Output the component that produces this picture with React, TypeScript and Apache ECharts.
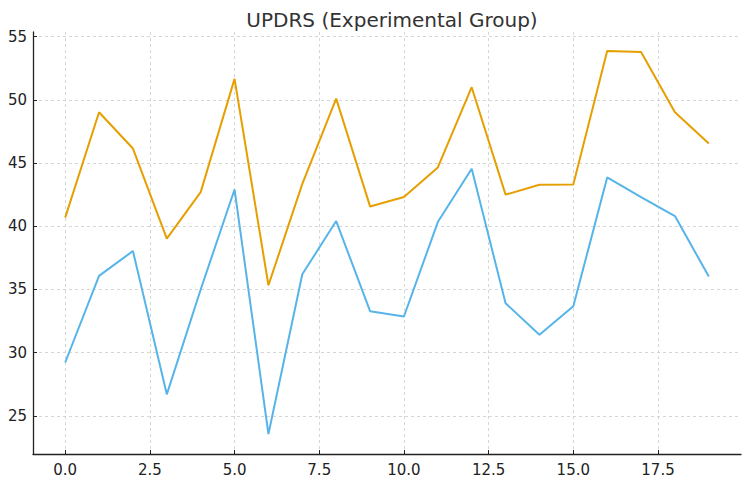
import React, { useEffect, useRef } from "react";
import * as echarts from "echarts";

const xValues = [0, 1, 2, 3, 4, 5, 6, 7, 8, 9, 10, 11, 12, 13, 14, 15, 16, 17, 18, 19];
const orangeSeries = [40.68, 49.02, 46.15, 39.02, 42.7, 51.66, 35.33, 43.35, 50.1, 41.57, 42.31, 44.65, 51.0, 42.5, 43.29, 43.31, 53.87, 53.79, 49.02, 46.55];
const blueSeries = [29.22, 36.07, 38.04, 26.7, 35.0, 42.91, 23.56, 36.2, 40.41, 33.28, 32.86, 40.33, 44.55, 33.91, 31.41, 33.67, 43.86, 42.3, 40.81, 36.02];
const xTicks = [0, 2.5, 5, 7.5, 10, 12.5, 15, 17.5];
const yTicks = [25, 30, 35, 40, 45, 50, 55];

export default function App() {
  const ref = useRef<HTMLDivElement>(null);
  useEffect(() => {
    if (!ref.current) return;
    const chart = echarts.init(ref.current, undefined, { renderer: "svg" });
    const font = "DejaVu Sans";
    const axisLine = { show: true, onZero: false, lineStyle: { color: "#222", width: 1.3 } };
    const tick = { show: true, inside: true, length: 4, lineStyle: { color: "#222", width: 1 } };
    const splitLine = { show: true, lineStyle: { color: "#cccccc", type: [3, 3], width: 0.8 } };
    chart.setOption({
      animation: false,
      backgroundColor: "#ffffff",
      title: {
        text: "UPDRS (Experimental Group)",
        left: 387,
        textAlign: "center",
        top: 5,
        textStyle: { fontFamily: font, fontSize: 20, fontWeight: "normal", color: "#333" },
      },
      grid: { left: 33, right: 9, top: 32, bottom: 29, containLabel: false },
      xAxis: {
        type: "value",
        min: -0.95,
        max: 19.95,
        axisLine,
        splitLine,
        axisTick: { ...tick, customValues: xTicks },
        axisLabel: {
          customValues: xTicks,
          formatter: (v: number) => v.toFixed(1),
          fontFamily: font,
          fontSize: 15,
          color: "#222",
          margin: 8,
        },
      },
      yAxis: {
        type: "value",
        min: 21.98,
        max: 55.37,
        axisLine,
        splitLine,
        axisTick: { ...tick, customValues: yTicks },
        axisLabel: {
          customValues: yTicks,
          formatter: (v: number) => String(v),
          fontFamily: font,
          fontSize: 15,
          color: "#222",
          margin: 6,
        },
      },
      series: [
        {
          type: "line",
          data: xValues.map((x, i) => [x, orangeSeries[i]]),
          showSymbol: false,
          symbol: "none",
          lineStyle: { color: "#E69F00", width: 2 },
          itemStyle: { color: "#E69F00" },
        },
        {
          type: "line",
          data: xValues.map((x, i) => [x, blueSeries[i]]),
          showSymbol: false,
          symbol: "none",
          lineStyle: { color: "#56B4E9", width: 2 },
          itemStyle: { color: "#56B4E9" },
        },
      ],
    });
    return () => chart.dispose();
  }, []);
  return <div ref={ref} style={{ width: 750, height: 483, position: "absolute", left: 0, top: 0 }} />;
}
